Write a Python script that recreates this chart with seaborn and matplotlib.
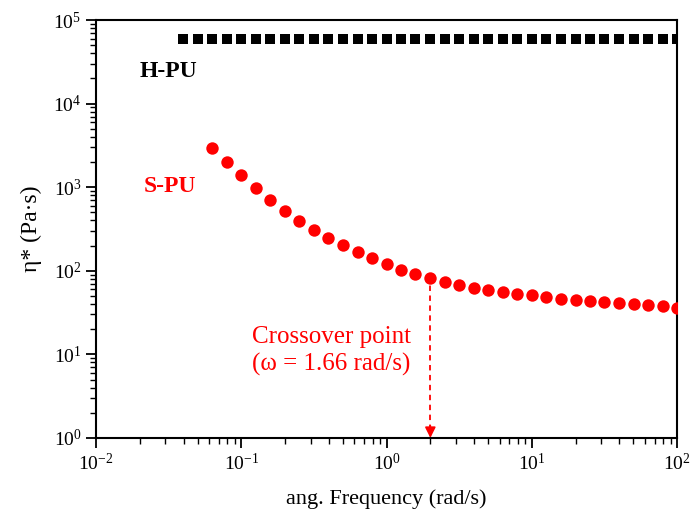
import matplotlib.pyplot as plt
import seaborn as sns

# Complex viscosity vs angular frequency
freq_h = [0.0398, 0.0501, 0.0631, 0.0794, 0.1, 0.126, 0.158, 0.2, 0.251, 0.316,
          0.398, 0.501, 0.631, 0.794, 1.0, 1.26, 1.58, 2.0, 2.51, 3.16,
          3.98, 5.01, 6.31, 7.94, 10.0, 12.6, 15.8, 20.0, 25.1, 31.6,
          39.8, 50.1, 63.1, 79.4, 100.0]
eta_h = [60000, 60000, 60000, 60000, 60000, 60000, 60000, 60000, 60000, 60000,
         60000, 60000, 60000, 60000, 60000, 60000, 60000, 60000, 60000, 60000,
         60000, 60000, 60000, 60000, 60000, 60000, 60000, 60000, 60000, 60000,
         60000, 60000, 60000, 60000, 60000]

freq_s = [0.0631, 0.0794, 0.1, 0.126, 0.158, 0.2, 0.251, 0.316, 0.398, 0.501,
          0.631, 0.794, 1.0, 1.26, 1.58, 2.0, 2.51, 3.16, 3.98, 5.01,
          6.31, 7.94, 10.0, 12.6, 15.8, 20.0, 25.1, 31.6, 39.8, 50.1,
          63.1, 79.4, 100.0]
eta_s = [2960, 2020, 1400, 970, 700, 524, 394, 308, 247, 204,
         166, 141, 120, 102, 91, 81, 74, 67, 62, 59,
         55, 53, 51, 48, 46, 45, 44, 42, 41, 40,
         39, 38, 36]

crossover_idx = 15
crossover_text = "Crossover point\n(ω = 1.66 rad/s)"

sns.set_theme(style="ticks")
plt.rcParams["font.family"] = ["Liberation Serif", "DejaVu Serif"]
plt.rcParams["mathtext.fontset"] = "custom"
plt.rcParams["mathtext.rm"] = "Liberation Serif"
plt.rcParams["mathtext.it"] = "Liberation Serif:italic"
plt.rcParams["mathtext.bf"] = "Liberation Serif:bold"

fig, ax = plt.subplots(figsize=(6.91, 5.27), dpi=100)
fig.subplots_adjust(left=0.139, right=0.980, top=0.962, bottom=0.169)

sns.scatterplot(x=freq_h, y=eta_h, marker="s", s=48, color="black",
                linewidth=0, ax=ax, zorder=3)
sns.scatterplot(x=freq_s, y=eta_s, marker="o", s=80, color="red",
                linewidth=0, ax=ax, zorder=3)

ax.set_xscale("log")
ax.set_yscale("log")
ax.set_xlim(1e-2, 1e2)
ax.set_ylim(1, 1e5)

# crossover arrow
x_c = freq_s[crossover_idx]
ax.vlines(x_c, 1.25, eta_s[crossover_idx], colors="red", linestyles=(0, (3, 2.5)),
          lw=1.3, zorder=2)
ax.annotate("", xy=(x_c, 1.0), xytext=(x_c, 1.4),
            arrowprops=dict(arrowstyle="-|>", color="red", lw=1.2,
                            mutation_scale=16, shrinkA=0, shrinkB=0),
            annotation_clip=False)

ax.text(0.02, 2.45e4, "H-PU", fontsize=17, fontweight="bold", color="black",
        ha="left", va="center")
ax.text(0.0214, 1030, "S-PU", fontsize=17, fontweight="bold", color="red",
        ha="left", va="center")
ax.text(0.415, 11.0, crossover_text, fontsize=18, color="red",
        ha="center", va="center", linespacing=1.25)

ax.set_xlabel("ang. Frequency (rad/s)", fontsize=16, labelpad=11, color="black")
ax.set_ylabel("η* (Pa·s)", fontsize=17, labelpad=8, color="black")

for side in ["top", "right", "left", "bottom"]:
    ax.spines[side].set_visible(True)
    ax.spines[side].set_color("black")
    ax.spines[side].set_linewidth(1.5)
ax.tick_params(which="major", direction="out", length=7, width=1.3,
               labelsize=14, colors="black", top=False, right=False)
ax.tick_params(which="minor", direction="out", length=4, width=1.0,
               colors="black", top=False, right=False)

fig.savefig("out.png", dpi=100)
plt.close(fig)
